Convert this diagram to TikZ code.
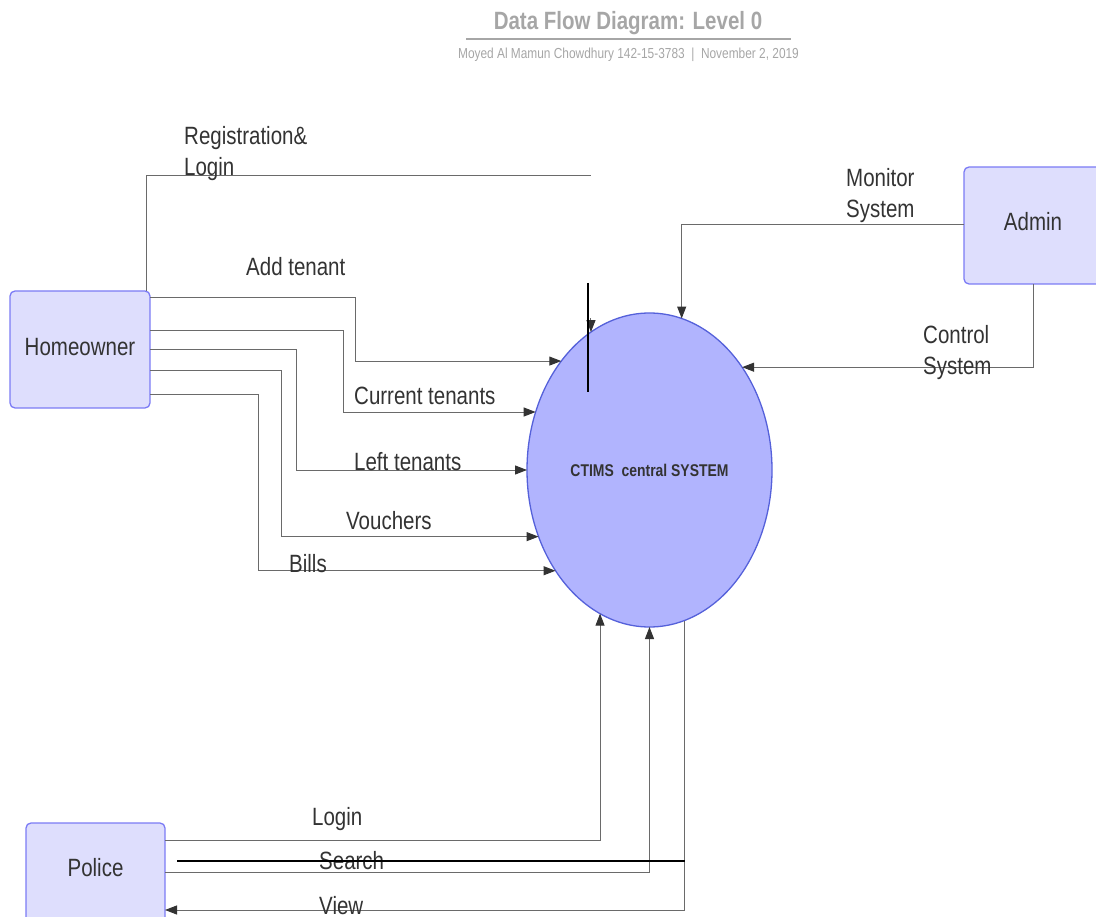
\documentclass[tikz,border=0pt]{standalone}
\usepackage{fontspec}
\setmainfont{Liberation Sans}[FakeStretch=0.82]
\usetikzlibrary{arrows.meta,shapes.geometric}
\definecolor{boxfill}{HTML}{DEDEFD}
\definecolor{boxline}{HTML}{7B7BF5}
\definecolor{sysfill}{HTML}{B1B4FE}
\definecolor{sysline}{HTML}{5561DA}
\definecolor{flowline}{HTML}{6A6A6A}
\definecolor{tipcol}{HTML}{333333}
\definecolor{txt}{HTML}{333333}
\definecolor{titlegray}{HTML}{A6A6A6}
\begin{document}
\begin{tikzpicture}[x=1pt,y=-1pt,
  entity/.style={draw=boxline, fill=boxfill, line width=1.3pt, rounded corners=5pt,
    inner sep=0pt, outer sep=0pt, text=txt, font=\fontsize{25}{30}\selectfont},
  process/.style={ellipse, draw=sysline, fill=sysfill, line width=1.3pt, inner sep=0pt,
    outer sep=0pt, minimum width=245pt, minimum height=314pt, text=txt,
    font=\fontsize{17}{20}\selectfont\bfseries},
  flow/.style={draw=flowline, line width=1pt, -{Triangle[length=12pt,width=9pt,color=tipcol]}},
  plain/.style={draw=flowline, line width=1pt},
  stroke/.style={draw=black, line width=2pt},
  lbl/.style={anchor=base west, inner sep=0pt, text=txt, font=\fontsize{25}{31}\selectfont, align=left},
]
\useasboundingbox (0,0) rectangle (1096,917);

% heading
\node[anchor=base, inner sep=0pt, text=titlegray, font=\fontsize{25}{30}\selectfont\bfseries]
  (title) at (628,30) {Data Flow Diagram: Level 0};
\draw[titlegray, line width=2pt] (466,39) -- (791,39);
\node[anchor=base, inner sep=0pt, text=titlegray, font=\fontsize{14.5}{17}\selectfont]
  (byline) at (628.5,59) {Moyed Al Mamun Chowdhury 142-15-3783 \ | \ November 2, 2019};

% external entities and the central process
\node[entity, minimum width=140pt, minimum height=117pt] (hw) at (80,349.5) {};
\node[inner sep=0pt, text=txt, font=\fontsize{25}{30}\selectfont] (hwtext) at (80,347) {Homeowner};
\node[entity, minimum width=138pt, minimum height=117pt] (admin) at (1033,225.5) {};
\node[inner sep=0pt, text=txt, font=\fontsize{25}{30}\selectfont] (admintext) at (1033,222) {Admin};
\node[entity, minimum width=139pt, minimum height=117pt] (police) at (95.5,881.5) {};
\node[inner sep=0pt, text=txt, font=\fontsize{25}{30}\selectfont] (policetext) at (95.5,868) {Police};
\node[process] (sys) at (649.5,470) {CTIMS\ \ central SYSTEM};

% homeowner flows
\coordinate (regend) at (591,176);
\draw[plain] (hw.north -| 146,0) |- (regend);
\draw[flow] ([yshift=14pt]sys.113.4) -- (sys.113.4);
\draw[flow] (hw.east |- 0,298) -- (355,298) |- (sys.129);
\draw[flow] (hw.east |- 0,331) -- (343,331) |- (sys.153);
\draw[flow] (hw.east |- 0,350) -- (296,350) |- (sys.180);
\draw[flow] (hw.east |- 0,371) -- (281,371) |- (sys.211.6);
\draw[flow] (hw.east |- 0,395) -- (258,395) |- (sys.227.6);

% admin flows
\draw[flow] (admin.west |- 0,225) -| (sys.78.65);
\draw[flow] (admin.south) |- (sys.48.6);

% police flows
\draw[flow] (police.east |- 0,840) -| (sys.251);
\draw[flow] (police.east |- 0,872) -| (sys.270);
\draw[flow] (sys.283.3) |- (police.east |- 0,910);

% flow labels (multi-line labels sit on the baseline of their last line)
\node[lbl] (lreg) at (184,176) {Registration\&\\Login};
\node[lbl] (ladd) at (246,276) {Add tenant};
\node[lbl] (lcur) at (354,405) {Current tenants};
\node[lbl] (lleft) at (354,471) {Left tenants};
\node[lbl] (lvou) at (346,529) {Vouchers};
\node[lbl] (lbill) at (289,572) {Bills};
\node[lbl] (lmon) at (846,218) {Monitor\\System};
\node[lbl] (lctl) at (923,375) {Control\\System};
\node[lbl] (llogin) at (312,825) {Login};
\node[lbl] (lsearch) at (319,869) {Search};
\node[lbl] (lview) at (319,914) {View};

% heavy strokes
\draw[stroke] (588,283) -- (588,392);
\draw[stroke] (177,861) -- (685,861);
\end{tikzpicture}
\end{document}
